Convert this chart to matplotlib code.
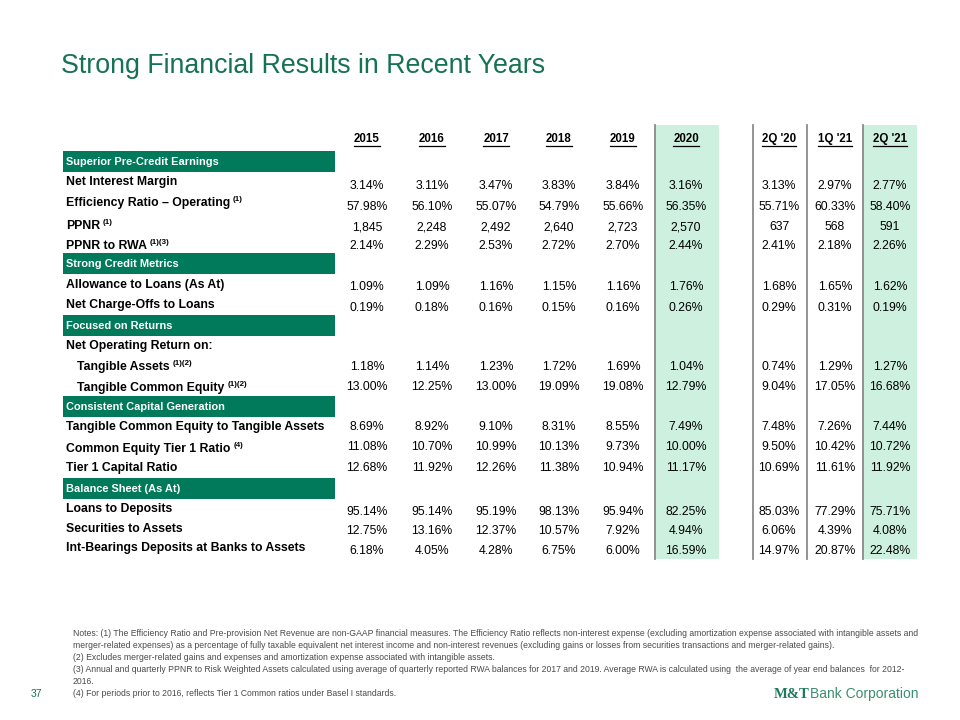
# Financial results table slide
import matplotlib
matplotlib.use('Agg')
import matplotlib.pyplot as plt

plt.rcParams['font.family'] = ['Liberation Sans', 'DejaVu Sans']

# ---- data ----
title = 'Strong Financial Results in Recent Years'
columns = ['2015', '2016', '2017', '2018', '2019', '2020', "2Q '20", "1Q '21", "2Q '21"]

sections = ['Superior Pre-Credit Earnings', 'Strong Credit Metrics', 'Focused on Returns',
            'Consistent Capital Generation', 'Balance Sheet (As At)']

row_labels = ['Net Interest Margin', 'Efficiency Ratio \u2013 Operating', 'PPNR', 'PPNR to RWA',
              'Allowance to Loans (As At)', 'Net Charge-Offs to Loans',
              'Net Operating Return on:', 'Tangible Assets', 'Tangible Common Equity',
              'Tangible Common Equity to Tangible Assets', 'Common Equity Tier 1 Ratio', 'Tier 1 Capital Ratio',
              'Loans to Deposits', 'Securities to Assets', 'Int-Bearings Deposits at Banks to Assets']
row_notes = ['', '(1)', '(1)', '(1)(3)', '', '', '', '(1)(2)', '(1)(2)', '', '(4)', '', '', '', '']

nim = ['3.14%', '3.11%', '3.47%', '3.83%', '3.84%', '3.16%', '3.13%', '2.97%', '2.77%']
eff = ['57.98%', '56.10%', '55.07%', '54.79%', '55.66%', '56.35%', '55.71%', '60.33%', '58.40%']
ppnr = ['1,845', '2,248', '2,492', '2,640', '2,723', '2,570', '637', '568', '591']
ppnr_rwa = ['2.14%', '2.29%', '2.53%', '2.72%', '2.70%', '2.44%', '2.41%', '2.18%', '2.26%']
allowance = ['1.09%', '1.09%', '1.16%', '1.15%', '1.16%', '1.76%', '1.68%', '1.65%', '1.62%']
nco = ['0.19%', '0.18%', '0.16%', '0.15%', '0.16%', '0.26%', '0.29%', '0.31%', '0.19%']
nor_header = None  # 'Net Operating Return on:' has no values
rota = ['1.18%', '1.14%', '1.23%', '1.72%', '1.69%', '1.04%', '0.74%', '1.29%', '1.27%']
rotce = ['13.00%', '12.25%', '13.00%', '19.09%', '19.08%', '12.79%', '9.04%', '17.05%', '16.68%']
tce_ta = ['8.69%', '8.92%', '9.10%', '8.31%', '8.55%', '7.49%', '7.48%', '7.26%', '7.44%']
cet1 = ['11.08%', '10.70%', '10.99%', '10.13%', '9.73%', '10.00%', '9.50%', '10.42%', '10.72%']
tier1 = ['12.68%', '11.92%', '12.26%', '11.38%', '10.94%', '11.17%', '10.69%', '11.61%', '11.92%']
loans_dep = ['95.14%', '95.14%', '95.19%', '98.13%', '95.94%', '82.25%', '85.03%', '77.29%', '75.71%']
sec_assets = ['12.75%', '13.16%', '12.37%', '10.57%', '7.92%', '4.94%', '6.06%', '4.39%', '4.08%']
ib_deposits = ['6.18%', '4.05%', '4.28%', '6.75%', '6.00%', '16.59%', '14.97%', '20.87%', '22.48%']

row_values = [nim, eff, ppnr, ppnr_rwa, allowance, nco, nor_header, rota, rotce,
              tce_ta, cet1, tier1, loans_dep, sec_assets, ib_deposits]

notes = [
    'Notes: (1) The Efficiency Ratio and Pre-provision Net Revenue are non-GAAP financial measures. The Efficiency Ratio reflects non-interest expense (excluding amortization expense associated with intangible assets and',
    'merger-related expenses) as a percentage of fully taxable equivalent net interest income and non-interest revenues (excluding gains or losses from securities transactions and merger-related gains).',
    '(2) Excludes merger-related gains and expenses and amortization expense associated with intangible assets.',
    '(3) Annual and quarterly PPNR to Risk Weighted Assets calculated using average of quarterly reported RWA balances for 2017 and 2019. Average RWA is calculated using  the average of year end balances  for 2012-',
    '2016.',
    '(4) For periods prior to 2016, reflects Tier 1 Common ratios under Basel I standards.',
]

# ---- layout (pixels) ----
col_x = [367, 432, 496, 559, 623, 686, 779, 835, 890]
header_y = 139
section_y = [151, 253, 315, 396, 478]
section_h = 21
label_y = [182, 203, 226, 246, 285, 305, 346, 367, 388, 427, 449, 468, 509, 529, 548]
value_y = [186, 207, 227, 246, 287, 308, 346, 367, 387, 427, 447, 468, 512, 531, 551]
indent = [0, 0, 0, 0, 0, 0, 0, 1, 1, 0, 0, 0, 0, 0, 0]

GREEN = '#007a5a'
MINT = '#cdf1de'
TITLE_GREEN = '#157352'

fig = plt.figure(figsize=(9.6, 7.2), dpi=100)
ax = fig.add_axes([0, 0, 1, 1])
ax.set_xlim(0, 960)
ax.set_ylim(720, 0)
ax.axis('off')

ax.text(61, 73, title, fontsize=19.3, color=TITLE_GREEN, va='baseline', ha='left')

# highlighted columns and separators
band_top, band_bot = 125, 559
for x0, x1 in [(655, 719), (863, 917)]:
    ax.fill_between([x0, x1], band_top, band_bot, color=MINT, lw=0, zorder=0)
for x in [655, 753, 807, 863]:
    ax.plot([x, x], [band_top, band_bot], color='#8a8a8a', lw=1.3, zorder=1)

# section bars
for name, y in zip(sections, section_y):
    ax.fill_between([63, 335], y, y + section_h, color=GREEN, lw=0, zorder=1)
    ax.text(66, y + section_h / 2 + 0.5, name, color='white', fontsize=7.9, fontweight='bold',
            va='center', ha='left', zorder=2)

renderer = fig.canvas.get_renderer()
inv = ax.transData.inverted()

# column headers, underlined
for c, x in zip(columns, col_x):
    t = ax.text(x, header_y, c, fontsize=8.3, fontweight='bold', ha='center', va='center')
    bb = t.get_window_extent(renderer)
    (xa, _), (xb, _) = inv.transform([(bb.x0, 0), (bb.x1, 0)])
    ax.plot([xa, xb], [header_y + 6.5, header_y + 6.5], color='black', lw=0.9)

# row labels and values
for i, lab in enumerate(row_labels):
    t = ax.text(66 + 11 * indent[i], label_y[i], lab, fontsize=8.8, fontweight='bold',
                ha='left', va='center')
    if row_notes[i]:
        ax.annotate(row_notes[i], xy=(1, 1), xycoords=t, xytext=(2, 1),
                    textcoords='offset points', fontsize=5.8, fontweight='bold',
                    ha='left', va='top')
    vals = row_values[i]
    if vals is None:
        continue
    for v, x in zip(vals, col_x):
        ax.text(x, value_y[i], v, fontsize=8.8, ha='center', va='center')

# footnotes
note_y = [633, 645, 657, 670, 682, 694]
for line, y in zip(notes, note_y):
    ax.text(73, y, line, fontsize=6.25, color='#4a4a4a', ha='left', va='center')

ax.text(31, 694, '37', fontsize=7.5, color=TITLE_GREEN, ha='left', va='center')

# logo text
m = ax.text(774, 694, 'M&T', fontsize=10.5, family='Liberation Serif', fontweight='bold',
            color='#1d7a5a', ha='left', va='center')
ax.annotate('Bank Corporation', xy=(1, 0.5), xycoords=m, xytext=(0.5, 0),
            textcoords='offset points', fontsize=10, color='#3a8f6e',
            ha='left', va='center')

fig.savefig('out.png', dpi=100)
